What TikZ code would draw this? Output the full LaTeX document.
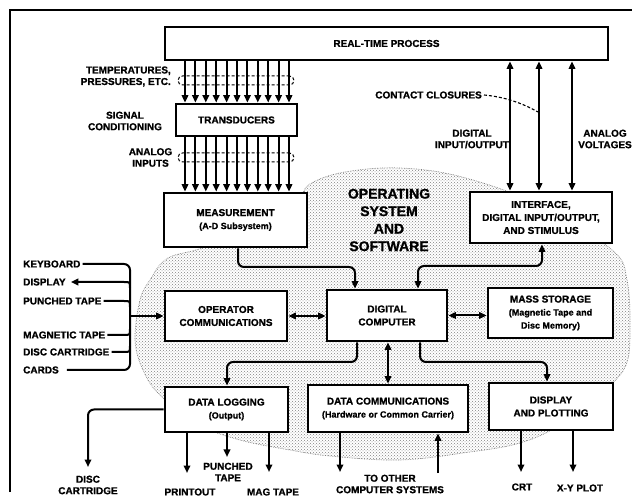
\documentclass[tikz,border=0pt]{standalone}
\usepackage{fontspec}
\setmainfont[BoldFeatures={FakeBold=1}]{Liberation Sans}
\usetikzlibrary{arrows.meta,patterns}
\begin{document}
\begin{tikzpicture}[x=1pt,y=-1pt,
  >={Triangle[length=7.5pt,width=6.5pt]},
  box/.style={draw, line width=2.8pt, fill=white, align=center, inner sep=1pt, font=\bfseries\fontsize{10}{13}\selectfont},
  lab/.style={align=center, inner sep=2pt, font=\bfseries\fontsize{10}{11.5}\selectfont},
  conn/.style={line width=2pt},
  oval/.style={draw, densely dashed, line width=1pt, rounded corners=4.5pt, inner sep=0pt},
  sm/.style={font=\bfseries\fontsize{9}{13}\selectfont}]
\useasboundingbox (0,0) rectangle (632,502);
% frame
\draw[line width=1.4pt] (10,492) -- (10,10) -- (632,10);
% cloud
\fill[pattern=crosshatch dots, pattern color=black!50] plot[smooth cycle, tension=0.6] coordinates {(310,184) (345,172) (400,168) (462,177) (540,205) (612,250) (627,280) (630,330) (626,365) (605,390) (560,425) (520,443) (470,452) (400,460) (330,456) (290,450) (240,440) (200,425) (160,395) (143,370) (135,340) (140,300) (150,280) (168,258) (210,245) (290,205)};
\draw[gray, densely dotted, line width=0.7pt] plot[smooth cycle, tension=0.6] coordinates {(310,184) (345,172) (400,168) (462,177) (540,205) (612,250) (627,280) (630,330) (626,365) (605,390) (560,425) (520,443) (470,452) (400,460) (330,456) (290,450) (240,440) (200,425) (160,395) (143,370) (135,340) (140,300) (150,280) (168,258) (210,245) (290,205)};
% boxes
\node[box, minimum width=443pt, minimum height=33pt] (rtp) at (386.5,43.5) {REAL-TIME PROCESS};
\node[box, minimum width=121pt, minimum height=32pt] (trans) at (236.5,120) {TRANSDUCERS};
\node[box, minimum width=143pt, minimum height=54pt] (meas) at (235.5,220) {MEASUREMENT\\{\fontsize{9}{11}\selectfont (A-D Subsystem)}};
\node[box, minimum width=142pt, minimum height=51pt] (iface) at (541,217.5) {INTERFACE,\\DIGITAL INPUT/OUTPUT,\\AND STIMULUS};
\node[box, minimum width=122pt, minimum height=50pt] (opcom) at (226,316) {OPERATOR\\COMMUNICATIONS};
\node[box, minimum width=120pt, minimum height=51pt] (comp) at (387,315.5) {DIGITAL\\COMPUTER};
\node[box, minimum width=125pt, minimum height=50pt] (mass) at (550.5,313) {MASS STORAGE\\{\fontsize{9}{11}\selectfont (Magnetic Tape and}\\{\fontsize{9}{11}\selectfont Disc Memory)}};
\node[box, minimum width=123pt, minimum height=45pt] (dlog) at (226.5,409.5) {DATA LOGGING\\{\fontsize{9}{11}\selectfont (Output)}};
\node[box, minimum width=160pt, minimum height=47pt] (dcom) at (388,408.5) {DATA COMMUNICATIONS\\{\fontsize{9}{11}\selectfont (Hardware or Common Carrier)}};
\node[box, minimum width=124pt, minimum height=47pt] (dispb) at (551,406.5) {DISPLAY\\AND PLOTTING};
% big text
\node[align=center, inner sep=0pt, font=\bfseries\fontsize{14}{17.5}\selectfont] (os) at (389,220) {OPERATING\\SYSTEM\\AND\\SOFTWARE};
% bundle ovals
\node[oval, minimum width=116pt, minimum height=9pt] (ov1) at (236,80.5) {};
\node[oval, minimum width=116pt, minimum height=9pt] (ov2) at (236,157.5) {};
% bundle arrows
\foreach \i in {0,...,10} {
  \pgfmathsetmacro\xx{185+10.4*\i}
  \draw[conn,->] (\xx,0 |- rtp.south) -- (\xx,0 |- trans.north);
  \draw[conn,->] (\xx,0 |- trans.south) -- (\xx,0 |- meas.north);
}
% left labels top
\node[lab, anchor=east, align=right] (ltemp) at (173,76.5) {TEMPERATURES,\\PRESSURES, ETC.};
\node[lab] (lsig) at (125,121) {SIGNAL\\CONDITIONING};
\node[lab] (lai) at (150.5,157.5) {ANALOG\\INPUTS};
% right side
\foreach \xx in {510,539,572} {
  \draw[conn,<->] (\xx,0 |- rtp.south) -- (\xx,0 |- iface.north);
}
\node[lab, anchor=east] (lcc) at (484,95) {CONTACT CLOSURES};
\coordinate (ccend) at (538,112);
\draw[densely dashed, line width=1.1pt] (lcc.east) .. controls (505,97) and (522,103) .. (ccend);
\node[lab] (ldio) at (472,139) {DIGITAL\\INPUT/OUTPUT};
\node[lab] (lav) at (605,139) {ANALOG\\VOLTAGES};
% computer connections
\draw[conn,->,rounded corners=6pt] (238,0 |- meas.south) -- (238,267) -- (355,267) -- (355,0 |- comp.north);
\draw[conn,<->,rounded corners=6pt] (542,0 |- iface.south) -- (542,266) -- (418,266) -- (418,0 |- comp.north);
\draw[conn,<->] (opcom.east) -- (opcom.east -| comp.west);
\draw[conn,<->] (comp.east) -- (comp.east -| mass.west);
\draw[conn,->,rounded corners=6pt] (357,0 |- comp.south) -- (357,362) -- (227,362) -- (227,0 |- dlog.north);
\draw[conn,<->] (388,0 |- comp.south) -- (388,0 |- dcom.north);
\draw[conn,->,rounded corners=6pt] (420,0 |- comp.south) -- (420,362) -- (547,362) -- (547,0 |- dispb.north);
% operator inputs
\node[lab, anchor=west] (lkbd) at (21,264) {KEYBOARD};
\node[lab, anchor=west] (ldisp) at (21,282) {DISPLAY};
\node[lab, anchor=west] (lpt) at (21,301) {PUNCHED TAPE};
\node[lab, anchor=west] (lmt) at (21,335) {MAGNETIC TAPE};
\node[lab, anchor=west] (ldc) at (21,352) {DISC CARTRIDGE};
\node[lab, anchor=west] (lcards) at (21,370) {CARDS};
\coordinate (busj) at (130,316);
\draw[conn, rounded corners=6pt] (lkbd.east) -- (130,264) -- (130,370) -- ([xshift=6pt]lcards.east);
\draw[conn] (lpt.east) -- (124,301) .. controls (130,301) .. (130,307);
\draw[conn,->] (130,288) .. controls (130,282) .. (124,282) -- ([xshift=3pt]ldisp.east);
\draw[conn] (lmt.east) -- (124,335) .. controls (130,335) .. (130,329);
\draw[conn] (ldc.east) -- (124,352) .. controls (130,352) .. (130,346);
\draw[conn,->] (busj) -- (busj -| opcom.west);
% data logging outputs
\node[lab] (ldisc) at (88,485) {DISC\\CARTRIDGE};
\node[lab] (lprint) at (190,492) {PRINTOUT};
\node[lab] (lpunch) at (228,472) {PUNCHED\\TAPE};
\node[lab] (lmag) at (273,492) {MAG TAPE};
\coordinate (e1) at (88,467);
\coordinate (e2) at (187,473);
\coordinate (e3) at (227,457);
\coordinate (e4) at (269,472);
\draw[conn,->,rounded corners=6pt] (dlog.west) -- (88,0 |- dlog.west) -- (e1);
\draw[conn,->] (187,0 |- dlog.south) -- (e2);
\draw[conn,->] (227,0 |- dlog.south) -- (e3);
\draw[conn,->] (269,0 |- dlog.south) -- (e4);
% data comm
\node[lab] (lother) at (390,484) {TO OTHER\\COMPUTER SYSTEMS};
\coordinate (e5) at (340,472);
\coordinate (e6) at (438,473);
\draw[conn,->] (340,0 |- dcom.south) -- (e5);
\draw[conn,->] (e6) -- (438,0 |- dcom.south);
% display outputs
\node[lab] (lcrt) at (522,487) {CRT};
\node[lab] (lxy) at (580,488) {X-Y PLOT};
\coordinate (e7) at (521,472);
\coordinate (e8) at (573,472);
\draw[conn,->] (521,0 |- dispb.south) -- (e7);
\draw[conn,->] (573,0 |- dispb.south) -- (e8);
\end{tikzpicture}
\end{document}
